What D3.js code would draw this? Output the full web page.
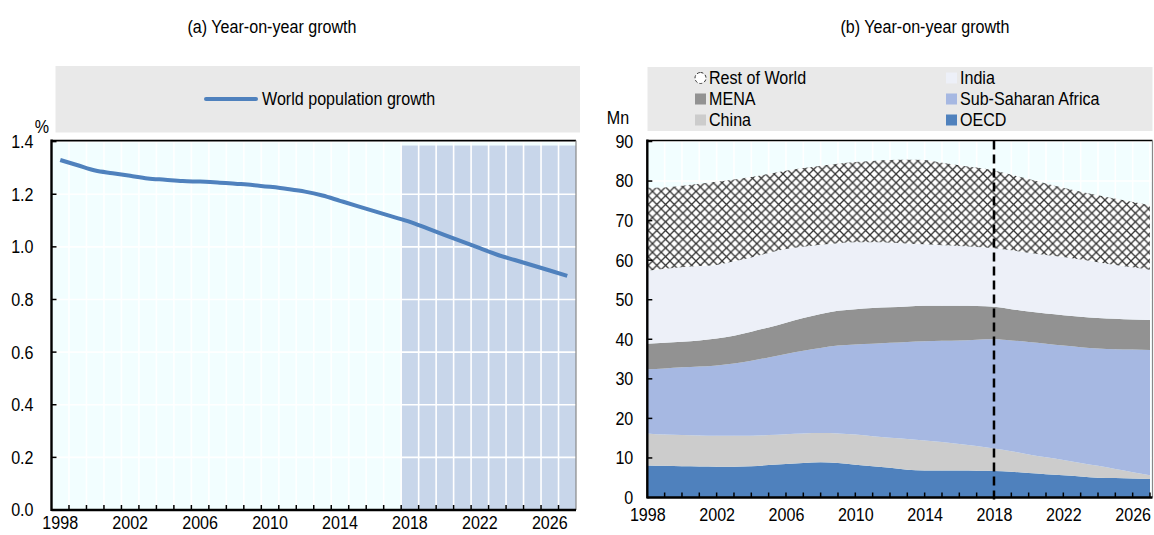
<!DOCTYPE html>
<html>
<head>
<meta charset="utf-8">
<script src="https://cdn.jsdelivr.net/npm/d3@7"></script>
<style>
  body { margin: 0; background: #fff; }
  svg { font-family: "Liberation Sans", Arial, sans-serif; }
</style>
</head>
<body>
<div id="chart"></div>
<script>
'use strict';

// data
const years = [1998, 1999, 2000, 2001, 2002, 2003, 2004, 2005, 2006, 2007,
  2008, 2009, 2010, 2011, 2012, 2013, 2014, 2015, 2016, 2017,
  2018, 2019, 2020, 2021, 2022, 2023, 2024, 2025, 2026, 2027];
const projectionYears = [2018, 2019, 2020, 2021, 2022, 2023, 2024, 2025, 2026, 2027];
const projectionTop = 1.385;

// (a) world population growth, %
const worldGrowth = [1.33, 1.31, 1.29, 1.28, 1.27, 1.26, 1.255, 1.25, 1.248, 1.245,
  1.24, 1.235, 1.228, 1.22, 1.21, 1.195, 1.175, 1.155, 1.135, 1.115,
  1.095, 1.07, 1.045, 1.02, 0.995, 0.97, 0.95, 0.93, 0.91, 0.89];

// (b) population increase by region, Mn
const oecd = [8.1, 8.0, 7.9, 7.85, 7.8, 7.8, 7.9, 8.2, 8.5, 8.75,
  8.9, 8.7, 8.3, 7.9, 7.5, 7.0, 6.8, 6.8, 6.8, 6.75,
  6.7, 6.5, 6.2, 5.9, 5.6, 5.3, 5.0, 4.9, 4.8, 4.7];
const china = [8.1, 7.9, 7.9, 7.85, 7.8, 7.8, 7.7, 7.6, 7.5, 7.45,
  7.4, 7.5, 7.6, 7.6, 7.6, 7.8, 7.6, 7.2, 6.7, 6.25,
  5.7, 5.2, 4.7, 4.3, 3.9, 3.4, 3.0, 2.3, 1.6, 0.9];
const ssa = [16.2, 16.7, 17.1, 17.4, 17.8, 18.3, 19.0, 19.6, 20.3, 20.9,
  21.5, 22.2, 22.8, 23.4, 24.0, 24.5, 25.1, 25.6, 26.2, 26.9,
  27.6, 28.0, 28.4, 28.7, 28.9, 29.3, 29.7, 30.3, 31.0, 31.7];
const mena = [6.5, 6.5, 6.5, 6.6, 6.8, 7.0, 7.3, 7.6, 7.9, 8.3,
  8.6, 8.8, 8.9, 9.0, 9.0, 9.0, 9.0, 8.9, 8.8, 8.5,
  8.2, 7.9, 7.7, 7.6, 7.7, 7.7, 7.7, 7.7, 7.6, 7.6];
const india = [18.4, 18.7, 18.8, 18.8, 18.6, 18.8, 18.8, 18.8, 18.6, 18.0,
  17.5, 17.1, 16.9, 16.6, 16.3, 15.9, 15.5, 15.3, 15.1, 14.9,
  14.8, 14.9, 14.9, 14.8, 14.7, 14.5, 14.1, 13.6, 13.2, 12.7];
const restOfWorld = [21.0, 20.6, 20.6, 20.8, 21.0, 20.7, 20.3, 20.0, 19.8, 19.9,
  20.0, 20.1, 20.3, 20.6, 20.9, 21.2, 21.3, 20.8, 20.4, 20.1,
  19.7, 19.1, 18.6, 18.1, 17.5, 17.1, 16.9, 16.7, 16.5, 16.3];

const xLabels = [1998, 2002, 2006, 2010, 2014, 2018, 2022, 2026];
const yTicksA = [0, 0.2, 0.4, 0.6, 0.8, 1.0, 1.2, 1.4];
const yTicksB = [0, 10, 20, 30, 40, 50, 60, 70, 80, 90];
const splitYear = 2018;

const seriesKeys = ['OECD', 'China', 'Sub-Saharan Africa', 'MENA', 'India', 'Rest of World'];
const seriesValues = [oecd, china, ssa, mena, india, restOfWorld];

// styles
const plotBg = '#f2feff';
const legendBg = '#e9e9e9';
const lineBlue = '#4f81bd';
const projColor = '#c8d6ea';
const colors = {
  'OECD': '#4f81bd',
  'China': '#cccccc',
  'Sub-Saharan Africa': '#a6b8e2',
  'MENA': '#929292',
  'India': '#edf0f8',
  'Rest of World': 'url(#hatch)'
};
const fontSize = 18.5;
const squeeze = 0.87; // narrow face look

const width = 1154;
const height = 535;

const svg = d3.select('#chart')
  .append('svg')
  .attr('width', width)
  .attr('height', height);

// crosshatch pattern
const hs = 8.7;
const pattern = svg.append('defs')
  .append('pattern')
  .attr('id', 'hatch')
  .attr('patternUnits', 'userSpaceOnUse')
  .attr('width', hs)
  .attr('height', hs);
pattern.append('rect').attr('width', hs).attr('height', hs).attr('fill', '#fff');
pattern.append('path')
  .attr('d', `M0,0L${hs},${hs}M${hs},0L0,${hs}`)
  .attr('stroke', '#333')
  .attr('stroke-width', 1.3);

drawChartA();
drawChartB();

// squeeze text horizontally around its anchor point
function narrow(sel) {
  sel.each(function() {
    const t = d3.select(this);
    const x = +t.attr('x') || 0;
    const y = +t.attr('y') || 0;
    t.attr('x', 0).attr('y', 0)
      .attr('transform', `translate(${x},${y}) scale(${squeeze},1)`);
  });
}

function label(x, y, text, anchor) {
  svg.append('text')
    .attr('x', x).attr('y', y).attr('dy', '0.35em')
    .attr('text-anchor', anchor || 'start')
    .attr('font-size', fontSize)
    .text(text)
    .call(narrow);
}

function styleAxisText(g) {
  g.select('.domain').remove();
  g.selectAll('text')
    .attr('font-size', fontSize)
    .attr('font-family', null)
    .attr('fill', '#000')
    .call(narrow);
}

function drawChartA() {
  const left = 51.5, right = 576, top = 141.6, bottom = 510;

  const x = d3.scaleBand().domain(years).range([left, right]).padding(0);
  const y = d3.scaleLinear().domain([0, 1.4]).range([bottom, top]);

  label(272, 27, '(a) Year-on-year growth', 'middle');

  // legend
  svg.append('rect')
    .attr('x', 55.5).attr('y', 66).attr('width', 524.5).attr('height', 66.5)
    .attr('fill', legendBg);
  svg.append('line')
    .attr('x1', 206).attr('x2', 256).attr('y1', 99).attr('y2', 99)
    .attr('stroke', lineBlue).attr('stroke-width', 4).attr('stroke-linecap', 'round');
  label(262, 99, 'World population growth');

  // plot background
  svg.append('rect')
    .attr('x', left).attr('y', top).attr('width', right - left).attr('height', bottom - top)
    .attr('fill', plotBg);

  // projection bars
  svg.append('g').selectAll('rect')
    .data(projectionYears)
    .enter()
    .append('rect')
    .attr('x', d => x(d))
    .attr('y', y(projectionTop))
    .attr('width', x.bandwidth())
    .attr('height', y(0) - y(projectionTop))
    .attr('fill', projColor);

  // gridlines
  const grid = svg.append('g').attr('stroke', '#fff').attr('stroke-width', 1.6);
  grid.selectAll('.hg')
    .data(yTicksA.slice(1))
    .enter().append('line')
    .attr('x1', left).attr('x2', right)
    .attr('y1', d => y(d)).attr('y2', d => y(d));
  grid.selectAll('.vg')
    .data(years.slice(1))
    .enter().append('line')
    .attr('x1', d => x(d)).attr('x2', d => x(d))
    .attr('y1', top).attr('y2', bottom);

  // line
  const line = d3.line()
    .x((d, i) => x(years[i]) + x.bandwidth() / 2)
    .y(d => y(d))
    .curve(d3.curveMonotoneX);
  svg.append('path')
    .datum(worldGrowth)
    .attr('d', line)
    .attr('fill', 'none')
    .attr('stroke', lineBlue)
    .attr('stroke-width', 4);

  // frame
  svg.append('line').attr('x1', left).attr('x2', right).attr('y1', top - 1).attr('y2', top - 1)
    .attr('stroke', '#000').attr('stroke-width', 1.6);
  svg.append('line').attr('x1', right).attr('x2', right).attr('y1', top - 1).attr('y2', bottom)
    .attr('stroke', '#888').attr('stroke-width', 1.2);

  // x axis: labels at band centres, ticks at band edges
  svg.append('g')
    .attr('transform', `translate(0, ${bottom})`)
    .call(d3.axisBottom(x).tickValues(xLabels).tickSize(0).tickPadding(6))
    .call(styleAxisText);
  svg.append('g').selectAll('line')
    .data(years.slice(1))
    .enter().append('line')
    .attr('x1', d => x(d)).attr('x2', d => x(d))
    .attr('y1', bottom).attr('y2', bottom - 5)
    .attr('stroke', '#000').attr('stroke-width', 1.5);
  svg.append('line').attr('x1', left).attr('x2', right).attr('y1', bottom).attr('y2', bottom)
    .attr('stroke', '#000').attr('stroke-width', 2.4);

  // y axis
  svg.append('g')
    .attr('transform', `translate(${left}, 0)`)
    .call(d3.axisLeft(y).tickValues(yTicksA).tickFormat(d3.format('.1f')).tickSize(0).tickPadding(18))
    .call(styleAxisText);
  svg.append('g').selectAll('line')
    .data(yTicksA.slice(1))
    .enter().append('line')
    .attr('x1', left).attr('x2', left + 5)
    .attr('y1', d => y(d)).attr('y2', d => y(d))
    .attr('stroke', '#000').attr('stroke-width', 1.5);
  svg.append('line').attr('x1', left).attr('x2', left).attr('y1', top - 2).attr('y2', bottom + 1)
    .attr('stroke', '#000').attr('stroke-width', 2.4);

  label(42, 127, '%', 'middle');
}

function drawChartB() {
  const left = 647.3, right = 1150, top = 141.5, bottom = 497.5;

  const x = d3.scaleLinear().domain([years[0], years[years.length - 1]]).range([left, right]);
  const y = d3.scaleLinear().domain([0, 90]).range([bottom, top]);

  label(925, 27, '(b) Year-on-year growth', 'middle');

  // legend
  svg.append('rect')
    .attr('x', 647.5).attr('y', 67).attr('width', 505).attr('height', 64)
    .attr('fill', legendBg);
  const legendItems = [
    { key: 'Rest of World', col: 0, row: 0 },
    { key: 'India', col: 1, row: 0 },
    { key: 'MENA', col: 0, row: 1 },
    { key: 'Sub-Saharan Africa', col: 1, row: 1 },
    { key: 'China', col: 0, row: 2 },
    { key: 'OECD', col: 1, row: 2 }
  ];
  const lg = svg.append('g').selectAll('g')
    .data(legendItems)
    .enter().append('g')
    .attr('transform', d => `translate(${d.col ? 946 : 695}, ${78 + d.row * 21})`);
  lg.append('rect')
    .attr('x', 0).attr('y', -5.5).attr('width', 11).attr('height', 11)
    .attr('rx', d => d.key === 'Rest of World' ? 5.5 : 0)
    .attr('stroke', d => d.key === 'Rest of World' ? '#333' : 'none')
    .attr('stroke-dasharray', '3,2')
    .attr('fill', d => d.key === 'Rest of World' ? '#fff' : colors[d.key]);
  lg.append('text')
    .attr('x', 14).attr('y', 0).attr('dy', '0.35em')
    .attr('font-size', fontSize)
    .text(d => d.key)
    .call(narrow);

  // plot background
  svg.append('rect')
    .attr('x', left).attr('y', top).attr('width', right - left + 2).attr('height', bottom - top)
    .attr('fill', plotBg);

  const grid = svg.append('g').attr('stroke', '#fff').attr('stroke-width', 1.6);
  grid.selectAll('.hg')
    .data(yTicksB.slice(1))
    .enter().append('line')
    .attr('x1', left).attr('x2', right + 2)
    .attr('y1', d => y(d)).attr('y2', d => y(d));
  grid.selectAll('.vg')
    .data(years.slice(1))
    .enter().append('line')
    .attr('x1', d => x(d)).attr('x2', d => x(d))
    .attr('y1', top).attr('y2', bottom);

  // stacked areas
  const table = years.map((yr, i) => {
    const row = { year: yr };
    seriesKeys.forEach((k, j) => { row[k] = seriesValues[j][i]; });
    return row;
  });
  const stacked = d3.stack().keys(seriesKeys)(table);
  const area = d3.area()
    .x(d => x(d.data.year))
    .y0(d => y(d[0]))
    .y1(d => y(d[1]))
    .curve(d3.curveMonotoneX);

  svg.append('g').selectAll('path')
    .data(stacked)
    .enter().append('path')
    .attr('d', area)
    .attr('fill', d => colors[d.key]);

  // projection split
  svg.append('line')
    .attr('x1', x(splitYear)).attr('x2', x(splitYear))
    .attr('y1', top - 1).attr('y2', bottom + 3)
    .attr('stroke', '#000').attr('stroke-width', 2.5)
    .attr('stroke-dasharray', '9,5');

  // frame
  svg.append('line').attr('x1', left).attr('x2', right + 2.5).attr('y1', top - 1).attr('y2', top - 1)
    .attr('stroke', '#000').attr('stroke-width', 1.6);
  svg.append('line').attr('x1', right + 2.5).attr('x2', right + 2.5).attr('y1', top - 1).attr('y2', bottom)
    .attr('stroke', '#888').attr('stroke-width', 1.2);

  // x axis
  svg.append('g')
    .attr('transform', `translate(0, ${bottom})`)
    .call(d3.axisBottom(x).tickValues(xLabels).tickFormat(d3.format('d')).tickSize(0).tickPadding(10))
    .call(styleAxisText);
  svg.append('g').selectAll('line')
    .data(years.slice(1))
    .enter().append('line')
    .attr('x1', d => x(d)).attr('x2', d => x(d))
    .attr('y1', bottom).attr('y2', bottom - 5)
    .attr('stroke', '#000').attr('stroke-width', 1.5);
  svg.append('line').attr('x1', left).attr('x2', right + 2.5).attr('y1', bottom).attr('y2', bottom)
    .attr('stroke', '#000').attr('stroke-width', 2.4);

  // y axis
  svg.append('g')
    .attr('transform', `translate(${left}, 0)`)
    .call(d3.axisLeft(y).tickValues(yTicksB).tickSize(0).tickPadding(14))
    .call(styleAxisText);
  svg.append('g').selectAll('line')
    .data(yTicksB.slice(1))
    .enter().append('line')
    .attr('x1', left).attr('x2', left + 5)
    .attr('y1', d => y(d)).attr('y2', d => y(d))
    .attr('stroke', '#000').attr('stroke-width', 1.5);
  svg.append('line').attr('x1', left).attr('x2', left).attr('y1', top - 2).attr('y2', bottom + 1)
    .attr('stroke', '#000').attr('stroke-width', 2.4);

  label(618, 118, 'Mn', 'middle');
}
</script>
</body>
</html>
